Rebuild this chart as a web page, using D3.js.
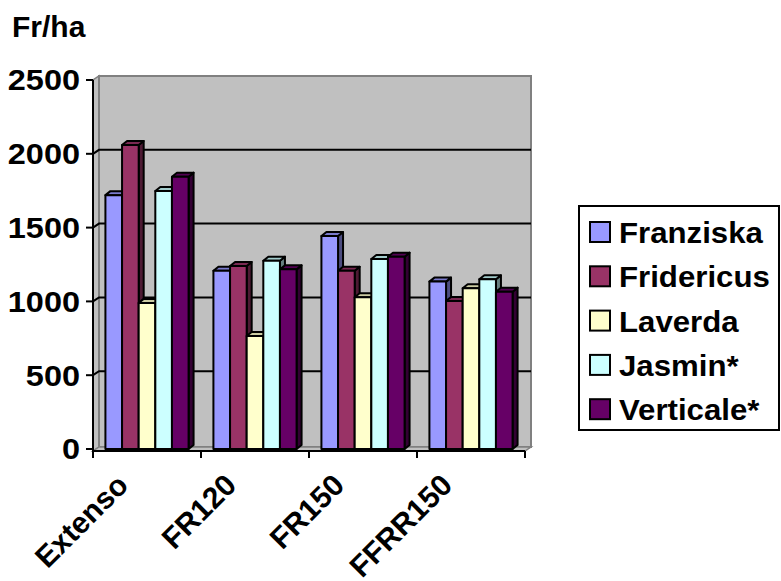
<!DOCTYPE html>
<html><head><meta charset="utf-8">
<script src="https://cdnjs.cloudflare.com/ajax/libs/d3/7.8.5/d3.min.js"></script>
<style>body{margin:0;background:#fff}svg{display:block}text{font-family:"Liberation Sans",Arial,sans-serif;font-weight:bold;fill:#000}</style>
</head><body>
<svg id="c" width="781" height="581"></svg>
<script>
const categories = ["Extenso", "FR120", "FR150", "FFRR150"];
const seriesNames = ["Franziska", "Fridericus", "Laverda", "Jasmin*", "Verticale*"];
const seriesColors = ["#9999FF", "#993366", "#FFFFCC", "#CCFFFF", "#660066"];
const franziska = [1720, 1208, 1443, 1134];
const fridericus = [2060, 1240, 1208, 1003];
const laverda = [990, 766, 1028, 1089];
const jasmin = [1748, 1276, 1287, 1150];
const verticale = [1845, 1217, 1303, 1066];
const yTicks = [0, 500, 1000, 1500, 2000, 2500];
const yTitle = "Fr/ha";

const seriesValues = [franziska, fridericus, laverda, jasmin, verticale];
const svg = d3.select("#c");

const DX = 6, DY = -4;       // wall depth
const BDX = 5, BDY = -4;     // bar depth
const axisY = 451;
const y = d3.scaleLinear().domain([0, 2500]).range([449, 80]);
const x0 = d3.scaleBand().domain(categories).range([93, 525]).paddingInner(0.23).paddingOuter(0.115);
const x1 = d3.scaleBand().domain(seriesNames).range([0, x0.bandwidth()]);
const xLeft = 93, xRight = 525;

// walls
const g = svg.append("g");
g.append("polygon") // left side wall
  .attr("points", [[xLeft, y(0) + 2], [xLeft, y(2500)], [xLeft + DX, y(2500) + DY], [xLeft + DX, y(0) + DY + 2]].join(" "))
  .attr("fill", "#C0C0C0").attr("stroke", "#808080").attr("stroke-width", 1.5);
g.append("rect") // back wall
  .attr("x", xLeft + DX).attr("y", y(2500) + DY)
  .attr("width", xRight - xLeft).attr("height", y(0) - y(2500) + 2)
  .attr("fill", "#C0C0C0").attr("stroke", "#808080").attr("stroke-width", 2);
g.append("polygon") // floor
  .attr("points", [[xLeft, axisY], [xRight, axisY], [xRight + DX, axisY + DY], [xLeft + DX, axisY + DY]].join(" "))
  .attr("fill", "#C0C0C0").attr("stroke", "#808080").attr("stroke-width", 1.5);

// gridlines
yTicks.filter(v => v > 0 && v < 2500).forEach(v => {
  g.append("polyline")
    .attr("points", [[xLeft, y(v)], [xLeft + DX, y(v) + DY], [xRight + DX, y(v) + DY]].join(" "))
    .attr("fill", "none").attr("stroke", "#000").attr("stroke-width", 2);
});

// bars
const scale = (c, k) => { const o = d3.rgb(c); return d3.rgb(o.r * k, o.g * k, o.b * k).formatHex(); };
const bars = svg.append("g").attr("stroke", "#000").attr("stroke-width", 2).attr("stroke-linejoin", "round");
categories.forEach((cat, ci) => {
  seriesNames.forEach((s, si) => {
    const v = seriesValues[si][ci];
    const bx = x0(cat) + x1(s), bw = x1.bandwidth();
    const top = y(v), bot = y(0);
    const col = seriesColors[si];
    bars.append("polygon")
      .attr("points", [[bx + bw, top], [bx + bw + BDX, top + BDY], [bx + bw + BDX, bot + BDY], [bx + bw, bot]].join(" "))
      .attr("fill", scale(col, 0.5));
    bars.append("polygon")
      .attr("points", [[bx, top], [bx + BDX, top + BDY], [bx + bw + BDX, top + BDY], [bx + bw, top]].join(" "))
      .attr("fill", scale(col, 0.8));
    bars.append("rect").attr("x", bx).attr("y", top).attr("width", bw).attr("height", bot - top).attr("fill", col);
  });
});

// axes
const ax = svg.append("g").attr("stroke", "#000").attr("stroke-width", 2);
ax.append("line").attr("x1", xLeft).attr("x2", xLeft).attr("y1", axisY).attr("y2", y(2500));
ax.append("line").attr("x1", xLeft).attr("x2", xRight).attr("y1", axisY).attr("y2", axisY);
yTicks.forEach(v => {
  ax.append("line").attr("x1", xLeft - 7).attr("x2", xLeft).attr("y1", y(v)).attr("y2", y(v));
});
const bounds = categories.map(c => x0(c) - x0.step() * x0.paddingOuter()).concat([xRight]);
bounds.forEach(bx => ax.append("line").attr("x1", bx).attr("x2", bx).attr("y1", axisY).attr("y2", axisY + 7));

svg.append("g").selectAll("text").data(yTicks).join("text")
  .attr("text-anchor", "end").attr("font-size", 29)
  .attr("transform", d => `translate(80,${y(d)}) scale(1.12,1)`).attr("dy", "0.36em")
  .text(d => d);

svg.append("g").selectAll("text").data(categories).join("text")
  .attr("text-anchor", "end").attr("font-size", 30)
  .attr("transform", d => `translate(${x0(d) + x0.bandwidth() / 2 - 17},487) rotate(-45)`)
  .text(d => d);

svg.append("text").attr("x", 12).attr("y", 37).attr("font-size", 30).text(yTitle);

// legend
const lg = svg.append("g");
lg.append("rect").attr("x", 579).attr("y", 206).attr("width", 200).attr("height", 224)
  .attr("fill", "#fff").attr("stroke", "#000").attr("stroke-width", 2);
seriesNames.forEach((s, i) => {
  const by = 243 + i * 44.3;
  lg.append("rect").attr("x", 590).attr("y", by - 21).attr("width", 20).attr("height", 20)
    .attr("fill", seriesColors[i]).attr("stroke", "#000").attr("stroke-width", 2);
  lg.append("text").attr("x", 619).attr("y", by).attr("font-size", 30)
    .attr("transform", `translate(619,0) scale(1.04,1) translate(-619,0)`).text(s);
});
</script>
</body></html>
